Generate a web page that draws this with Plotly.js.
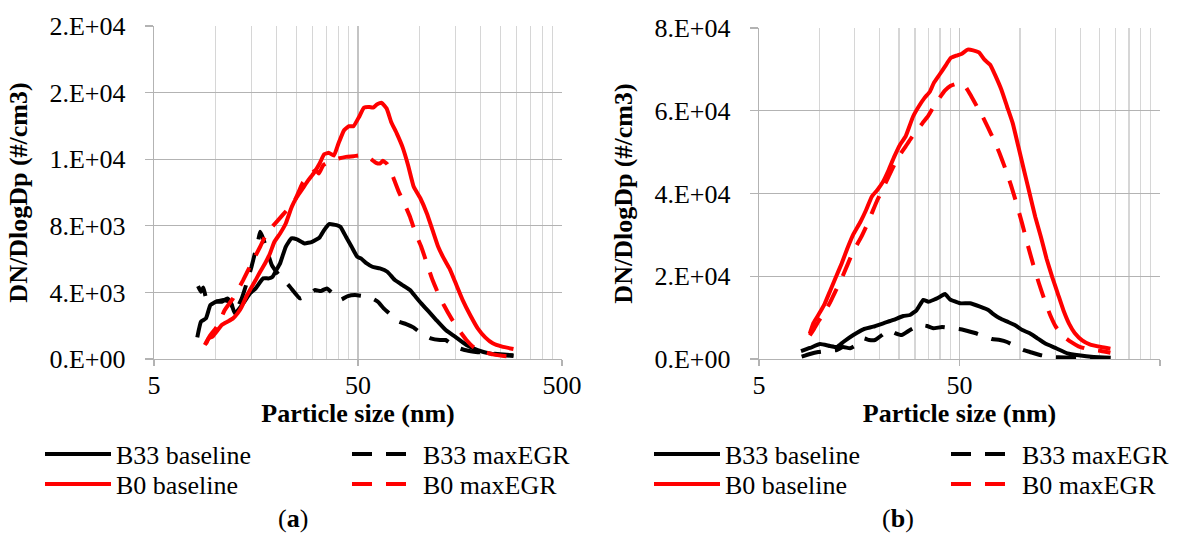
<!DOCTYPE html>
<html>
<head>
<meta charset="utf-8">
<script src="https://cdn.plot.ly/plotly-3.0.1.min.js"></script>
<style>html,body{margin:0;padding:0;background:#fff;}#chart{width:1179px;height:534px;}</style>
</head>
<body>
<div id="chart"></div>
<script>
// ---------- Panel (a) ----------
var sizeA_B33base = [8.15, 8.50, 8.99, 9.45, 10.08, 10.74, 11.45, 11.95, 12.46, 13.86, 14.77, 15.75, 17.14, 18.27, 19.07, 19.89, 20.75, 22.12, 23.58, 25.13, 27.35, 29.78, 32.42, 34.12, 36.06, 39.25, 40.95, 43.65, 46.52, 49.58, 51.7, 55.2, 58.8, 64.0, 69.6, 75.8, 82.6, 89.9, 95.8, 102.1, 111.2, 121.0, 134.6, 149.6, 170.0, 193.1, 219.3, 249.1, 289.1];
var dndlogA_B33base = [1300, 2240, 2440, 3240, 3440, 3440, 3640, 3340, 2740, 3440, 3940, 4240, 4840, 4840, 4940, 5340, 5740, 6740, 7240, 7180, 6940, 7040, 7300, 7740, 8100, 8040, 7940, 7340, 6740, 6140, 6040, 5740, 5540, 5440, 5240, 4740, 4440, 4140, 3740, 3340, 2840, 2340, 1740, 1340, 840, 540, 340, 240, 180];

var sizeA_B33egr = [8.22, 8.50, 8.72, 9.07, 9.87, 10.97, 11.79, 12.46, 13.46, 14.22, 15.03, 15.61, 16.22, 16.57, 17.14, 18.19, 18.90, 19.89, 21.2, 23.18, 25.99, 28.29, 30.81, 32.84, 35.14, 37.6, 40.78, 44.58, 48.33, 52.8, 58.5, 62.6, 66.8, 72.7, 79.2, 86.1, 93.4, 102.1, 113.6, 126.2, 134.6, 149.6, 166.4, 185.0, 219.3, 249.1, 289.1];
var dndlogA_B33egr = [4380, 4040, 4300, 3540, 3440, 3540, 3440, 2840, 3640, 4540, 5540, 6340, 7140, 7640, 7240, 6240, 5640, 5240, 4840, 4340, 3640, 3840, 4140, 4080, 4240, 3940, 3540, 3780, 3840, 3780, 3640, 3440, 3040, 2640, 2240, 2100, 1900, 1540, 1240, 1140, 1140, 740, 540, 440, 340, 280, 220];

var sizeA_B0base = [8.87, 9.26, 9.66, 10.12, 10.74, 11.45, 12.20, 12.84, 13.46, 14.16, 14.77, 15.75, 16.57, 17.51, 18.51, 19.47, 20.75, 22.12, 23.67, 25.13, 26.79, 28.54, 30.42, 32.42, 34.12, 36.06, 38.1, 40.1, 42.73, 45.15, 47.52, 50.6, 53.5, 56.8, 59.3, 62.1, 65.4, 69.1, 72.7, 77.5, 82.6, 88.0, 93.8, 101.2, 108.8, 116.0, 123.6, 131.7, 140.4, 149.6, 163.0, 177.3, 193.1, 210.2, 228.8, 254.4, 289.1];
var dndlogA_B0base = [840, 1240, 1340, 1640, 2040, 2240, 2440, 2740, 3140, 3740, 4140, 4740, 5240, 5740, 6340, 7040, 7540, 8140, 9140, 9740, 10240, 10740, 11180, 11740, 12300, 12380, 12220, 12940, 13740, 13980, 13980, 14540, 15100, 15140, 15100, 15300, 15380, 15040, 14240, 13540, 12740, 11640, 10340, 9640, 8740, 7740, 6740, 6040, 5440, 4640, 3540, 2640, 1840, 1300, 940, 740, 600];

var sizeA_B0egr = [8.99, 9.34, 9.74, 10.29, 11.11, 12.20, 13.68, 15.03, 16.57, 17.81, 20.3, 22.4, 24.6, 26.79, 29.16, 31.08, 32.15, 33.8, 36.8, 40.1, 43.65, 47.52, 51.7, 55.2, 58.8, 61.3, 64.0, 66.2, 69.6, 74.2, 79.2, 84.3, 89.9, 95.8, 102.1, 108.8, 116.0, 123.6, 131.7, 143.4, 156.2, 170.0, 185.0, 205.7, 228.8, 260, 289.1];
var dndlogA_B0egr = [900, 1340, 1640, 2040, 2940, 3640, 4740, 5740, 6740, 7540, 8340, 8940, 9580, 10580, 11100, 11340, 11140, 11640, 11900, 12040, 12140, 12180, 12240, 12180, 11940, 11780, 11740, 11900, 11700, 10940, 10040, 9340, 8540, 7540, 6740, 5740, 4740, 3940, 3240, 2440, 1740, 1140, 700, 440, 280, 180, 140];

// ---------- Panel (b) ----------
var sizeB_B33base = [8.1, 8.98, 10.07, 11.31, 12.25, 13.16, 14.77, 16.57, 18.59, 20.85, 23.39, 26.23, 28.32, 30.58, 32.99, 34.94, 37.0, 39.96, 42.3, 44.8, 50.3, 56.4, 63.3, 69.6, 72.9, 79.4, 86.6, 94.4, 102.9, 112.1, 122.3, 133.3, 151.8, 172.6, 196.5, 233.7, 283.9];
var dndlogB_B33base = [1900, 2660, 3630, 3140, 2900, 4110, 5800, 7180, 7810, 8630, 9430, 10390, 10630, 11840, 14260, 13850, 14260, 15060, 15710, 14430, 13460, 13460, 12640, 11840, 11050, 9840, 9020, 8220, 7010, 6210, 5000, 3790, 2590, 1380, 890, 480, 310];

var sizeB_B33egr = [8.16, 8.98, 9.88, 10.92, 12.20, 13.12, 14.22, 15.23, 16.57, 17.69, 18.95, 20.53, 22.07, 23.84, 25.75, 28.32, 31.77, 34.43, 37.0, 40.9, 45.7, 49.7, 54.3, 59.8, 67.0, 72.6, 79.6, 86.3, 94.6, 103.7, 112.3, 126.0, 144.6, 167.9, 199.5, 237.1, 284.8];
var dndlogB_B33egr = [560, 1210, 1690, 1930, 2180, 2900, 2590, 3380, 5000, 4590, 4590, 5800, 7010, 6280, 5800, 7010, 8220, 7980, 7420, 7730, 7420, 7250, 6840, 6280, 5390, 4830, 4590, 4110, 3140, 2180, 1690, 970, 480, 360, 240, 170, 120];

var sizeB_B0base = [8.96, 9.35, 9.98, 10.64, 11.35, 12.11, 12.92, 13.79, 14.71, 16.04, 17.11, 18.25, 19.47, 20.78, 22.16, 23.64, 25.22, 26.91, 28.11, 29.35, 31.31, 33.40, 35.63, 37.2, 39.7, 42.36, 45.18, 48.2, 51.4, 54.9, 58.5, 62.5, 66.6, 71.1, 75.8, 80.9, 86.3, 92.1, 98.3, 104.8, 111.8, 119.3, 127.3, 135.8, 144.9, 154.6, 164.9, 175.9, 187.7, 204.6, 223.1, 253.9, 282.9];
var dndlogB_B0base = [6135, 8720, 10980, 13400, 16630, 19860, 23090, 26720, 29950, 33180, 36010, 39230, 40850, 42870, 45690, 48920, 51750, 53770, 56190, 58610, 61030, 63050, 64660, 66680, 68700, 70720, 72740, 73300, 73790, 74760, 74600, 74110, 72330, 71120, 68300, 65070, 61030, 57000, 51340, 45690, 40040, 34390, 29550, 24300, 19860, 15820, 11790, 8560, 6300, 4520, 3550, 2910, 2500];

var sizeB_B0egr = [8.96, 9.43, 9.98, 10.64, 11.35, 12.11, 12.92, 13.79, 14.71, 16.04, 17.11, 18.25, 19.47, 20.78, 22.16, 23.64, 25.22, 26.91, 28.7, 30.6, 32.7, 34.9, 37.2, 39.7, 42.36, 45.18, 48.2, 50.97, 53.7, 57.3, 61.1, 65.2, 69.6, 74.2, 79.2, 84.5, 90.2, 96.2, 102.6, 109.5, 116.8, 124.6, 132.9, 141.8, 151.3, 164.9, 179.8, 196.0, 223.1, 253.9, 282.9];
var dndlogB_B0egr = [5730, 7350, 9360, 11380, 13800, 16630, 19460, 22690, 25910, 29140, 31970, 35200, 38430, 41250, 44080, 46900, 49330, 51340, 53360, 55220, 57000, 58770, 61030, 63050, 64910, 66040, 66520, 66520, 65710, 63450, 61030, 58610, 55780, 52960, 49730, 46100, 42060, 37620, 32780, 27530, 22690, 18240, 14210, 10580, 7750, 5490, 4120, 3070, 2260, 1940, 1500];

// ---------- Axis labels ----------
var xTickVals = [5, 50, 500];
var xTickText = ['5', '50', '500'];
var xMinorVals = [10, 15, 20, 25, 30, 35, 40, 45, 100, 150, 200, 250, 300, 350, 400, 450];
var yTickValsA = [0, 4000, 8000, 12000, 16000, 20000];
var yTickTextA = ['0.E+00', '4.E+03', '8.E+03', '1.E+04', '2.E+04', '2.E+04'];
var yTickValsB = [0, 20000, 40000, 60000, 80000];
var yTickTextB = ['0.E+00', '2.E+04', '4.E+04', '6.E+04', '8.E+04'];
var seriesNames = ['B33 baseline', 'B33 maxEGR', 'B0 baseline', 'B0 maxEGR'];

var FONT = '"Liberation Serif", "Times New Roman", Times, serif';
var BLACK = '#000000', RED = '#ff0000';
var DASH = '20px,14px';
var LW = 4;

function tr(x, y, name, color, dash, xa, ya, leg) {
  return {
    x: x, y: y, name: name, type: 'scatter', mode: 'lines',
    line: {color: color, width: LW, dash: dash, shape: 'spline', smoothing: 0.4},
    xaxis: xa, yaxis: ya, legend: leg, showlegend: true, hoverinfo: 'skip'
  };
}

var data = [
  tr(sizeA_B33base, dndlogA_B33base, seriesNames[0], BLACK, 'solid', 'x', 'y', 'legend'),
  tr(sizeA_B33egr, dndlogA_B33egr, seriesNames[1], BLACK, DASH, 'x', 'y', 'legend2'),
  tr(sizeA_B0base, dndlogA_B0base, seriesNames[2], RED, 'solid', 'x', 'y', 'legend3'),
  tr(sizeA_B0egr, dndlogA_B0egr, seriesNames[3], RED, DASH, 'x', 'y', 'legend4'),
  tr(sizeB_B33base, dndlogB_B33base, seriesNames[0], BLACK, 'solid', 'x2', 'y2', 'legend5'),
  tr(sizeB_B33egr, dndlogB_B33egr, seriesNames[1], BLACK, DASH, 'x2', 'y2', 'legend6'),
  tr(sizeB_B0base, dndlogB_B0base, seriesNames[2], RED, 'solid', 'x2', 'y2', 'legend7'),
  tr(sizeB_B0egr, dndlogB_B0egr, seriesNames[3], RED, DASH, 'x2', 'y2', 'legend8')
];

var GRID = '#b3b3b3', XGRID = '#c4c4c4', MINOR = '#d6d6d6';

function xAxis(domain, anchor) {
  return {
    type: 'log', domain: domain, anchor: anchor,
    range: [Math.log10(5), Math.log10(500)],
    tickmode: 'array', tickvals: xTickVals, ticktext: xTickText,
    ticks: 'outside', ticklen: 6, tickwidth: 1.3, tickcolor: GRID,
    showgrid: true, gridcolor: XGRID, gridwidth: 1.3,
    minor: {tickmode: 'array', tickvals: xMinorVals, showgrid: true, gridcolor: MINOR, gridwidth: 1.3, ticks: ''},
    showline: true, linecolor: GRID, linewidth: 1.3, zeroline: false,
    tickfont: {family: FONT, size: 26, color: '#000'},
    ticklabelstandoff: -4,
    title: {text: '<b>Particle size (nm)</b>', font: {family: FONT, size: 26, color: '#000'}, standoff: 4}
  };
}
function yAxis(domain, anchor, vals, text, maxv) {
  return {
    domain: domain, anchor: anchor, range: [0, maxv],
    tickmode: 'array', tickvals: vals, ticktext: text,
    ticks: 'outside', ticklen: 8, tickwidth: 1.3, tickcolor: GRID,
    showgrid: true, gridcolor: GRID, gridwidth: 1.3,
    showline: true, linecolor: GRID, linewidth: 1.3, zeroline: false,
    tickfont: {family: FONT, size: 26, color: '#000'},
    ticklabelstandoff: 14,
    title: {text: '<b>DN/DlogDp (#/cm3)</b>', font: {family: FONT, size: 26, color: '#000'}, standoff: 14}
  };
}

function leg(x, y) {
  return {
    x: x, y: y, xanchor: 'left', yanchor: 'middle', xref: 'paper', yref: 'paper',
    orientation: 'v', bgcolor: 'rgba(0,0,0,0)', borderwidth: 0, itemwidth: 66,
    font: {family: FONT, size: 26, color: '#000'}, itemclick: false, itemdoubleclick: false
  };
}

var W = 1179, H = 534;
var layout = {
  width: W, height: H,
  margin: {l: 0, r: 0, t: 0, b: 0},
  paper_bgcolor: '#fff', plot_bgcolor: '#fff',
  showlegend: true,
  font: {family: FONT, size: 26, color: '#000'},
  xaxis: xAxis([154 / W, 562 / W], 'y'),
  yaxis: yAxis([(H - 359) / H, (H - 26) / H], 'x', yTickValsA, yTickTextA, 20000),
  xaxis2: xAxis([759 / W, 1160 / W], 'y2'),
  yaxis2: yAxis([(H - 359) / H, (H - 28) / H], 'x2', yTickValsB, yTickTextB, 80000),
  legend: leg(40 / W, 1 - 454 / H),
  legend2: leg(347 / W, 1 - 454 / H),
  legend3: leg(40 / W, 1 - 484 / H),
  legend4: leg(347 / W, 1 - 484 / H),
  legend5: leg(649 / W, 1 - 454 / H),
  legend6: leg(946 / W, 1 - 454 / H),
  legend7: leg(649 / W, 1 - 484 / H),
  legend8: leg(946 / W, 1 - 484 / H),
  annotations: [
    {text: '(<b>a</b>)', x: 293 / W, y: 0, xref: 'paper', yref: 'paper', showarrow: false, xanchor: 'center', yanchor: 'bottom', borderpad: 0, font: {family: FONT, size: 26, color: '#000'}},
    {text: '(<b>b</b>)', x: 898 / W, y: 0, xref: 'paper', yref: 'paper', showarrow: false, xanchor: 'center', yanchor: 'bottom', borderpad: 0, font: {family: FONT, size: 26, color: '#000'}}
  ]
};

Plotly.newPlot('chart', data, layout, {staticPlot: true, displayModeBar: false});
</script>
</body>
</html>
